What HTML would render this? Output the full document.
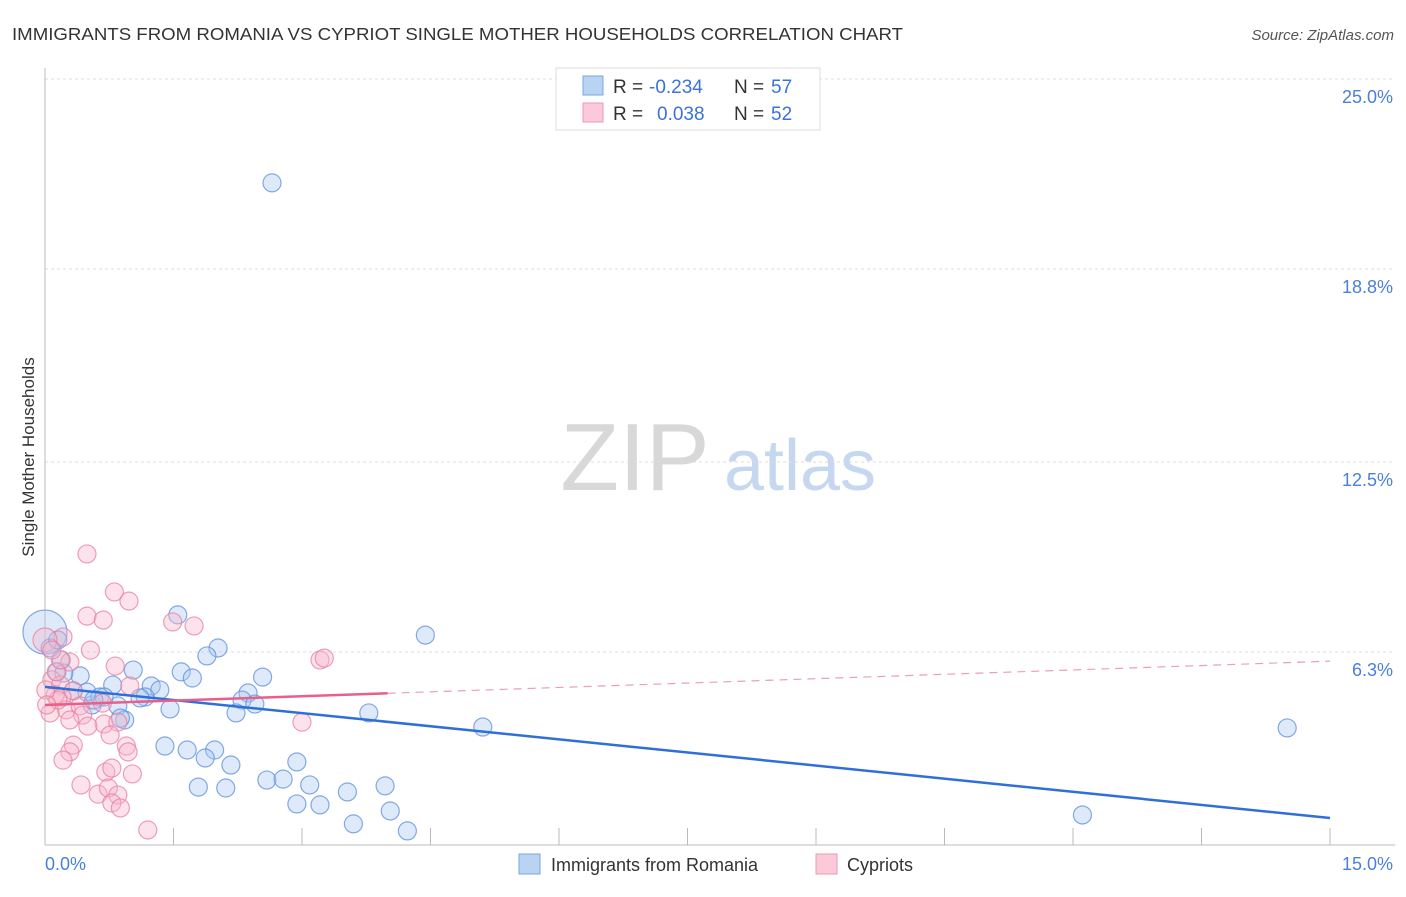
<!DOCTYPE html>
<html><head><meta charset="utf-8"><style>
body{margin:0;background:#fff;font-family:"Liberation Sans",sans-serif}
svg text{font-family:"Liberation Sans",sans-serif}
</style></head><body>
<svg id="chart" width="1406" height="892" xmlns="http://www.w3.org/2000/svg">
<text x="12" y="40" font-size="17.5" fill="#333" textLength="891" lengthAdjust="spacingAndGlyphs">IMMIGRANTS FROM ROMANIA VS CYPRIOT SINGLE MOTHER HOUSEHOLDS CORRELATION CHART</text>
<text x="1394" y="40" font-size="15" fill="#555" font-style="italic" text-anchor="end">Source: ZipAtlas.com</text>
<g>
<text x="635" y="490" font-size="96" fill="#d8d8d8" font-family="Liberation Serif" text-anchor="middle">ZIP</text>
<text x="800" y="490" font-size="72" fill="#c6d8ef" text-anchor="middle">atlas</text>
</g>
<g id="grid"></g>
<g id="axes"></g>
<g id="marks"></g>
<text transform="translate(34,457) rotate(-90)" font-size="17" fill="#333" text-anchor="middle">Single Mother Households</text>
<g>
<rect x="556" y="68" width="264" height="62" fill="#fff" stroke="#ddd"/>
<rect x="583" y="76" width="20" height="19" fill="#b9d3f3" stroke="#7aa6e0"/>
<rect x="583" y="103" width="20" height="19" fill="#fbc9d8" stroke="#ee98b4"/>
<text x="613" y="93" font-size="19" fill="#333">R =</text>
<text x="649" y="93" font-size="19" fill="#3a72d8">-0.234</text>
<text x="734" y="93" font-size="19" fill="#333">N =</text>
<text x="771" y="93" font-size="19" fill="#3a72d8">57</text>
<text x="613" y="120" font-size="19" fill="#333">R =</text>
<text x="657" y="120" font-size="19" fill="#3a72d8">0.038</text>
<text x="734" y="120" font-size="19" fill="#333">N =</text>
<text x="771" y="120" font-size="19" fill="#3a72d8">52</text>
</g>
<g>
<rect x="519" y="854" width="21" height="20" fill="#b9d3f3" stroke="#7aa6e0"/>
<text x="551" y="871" font-size="18" fill="#333">Immigrants from Romania</text>
<rect x="816" y="854" width="21" height="20" fill="#fbc9d8" stroke="#ee98b4"/>
<text x="847" y="871" font-size="18" fill="#333">Cypriots</text>
</g>
</svg>
<script>
const yTicks=[6.3,12.5,18.8,25.0];
const xTickLabels=["0.0%","15.0%"];
const blueX=[2.65,4.44,5.11,14.50,12.11,1.55,2.02,1.89,1.59,1.72,2.54,1.03,0.41,0.19,0.14,0.22,0.79,1.24,1.34,1.17,1.11,2.37,2.30,2.45,2.23,1.46,0.85,0.93,0.88,0.55,0.33,0.49,0.64,3.78,1.40,1.66,1.98,1.87,2.17,2.94,2.59,2.78,3.09,1.79,2.11,3.97,3.53,2.94,3.21,4.03,3.60,4.23,0,0.06,0.15,0.69,0.57];
const blueY=[21.61,6.85,3.85,3.82,0.98,7.51,6.43,6.17,5.65,5.45,5.48,5.71,5.52,6.04,5.65,5.61,5.22,5.19,5.06,4.83,4.80,4.96,4.73,4.60,4.31,4.44,4.54,4.08,4.14,4.57,5.03,4.99,4.83,4.31,3.23,3.10,3.10,2.84,2.61,2.71,2.12,2.15,1.96,1.89,1.86,1.93,1.73,1.34,1.31,1.11,0.69,0.46,6.95,6.43,6.69,4.83,4.73];
const pinkX=[0.49,0.81,0.98,0.49,0.68,1.49,1.74,0.21,0.53,0,3.21,3.26,0.82,0.29,0.08,0.18,0.33,0.20,0.25,0.41,0.44,0.67,0.69,0.06,0.29,0.50,0.99,0.85,3.00,0.95,0.97,0.33,0.29,0.21,0.71,0.78,1.02,0.42,0.62,0.74,0.85,0.78,0.88,1.20,0.12,0.15,0.01,0.02,0.13,0.76,0.18,0.08];
const pinkY=[9.50,8.26,7.96,7.47,7.34,7.28,7.15,6.79,6.36,6.69,6.04,6.10,5.84,5.97,5.39,5.22,5.03,4.83,4.41,4.54,4.24,4.63,3.95,4.31,4.08,3.88,5.19,4.01,4.01,3.23,3.04,3.26,3.04,2.77,2.38,2.51,2.32,1.96,1.66,1.86,1.63,1.37,1.21,0.49,4.90,4.73,5.06,4.57,5.65,3.59,6.04,6.36];
const blueTrend=[5.16,0.88];
const pinkTrend=[4.57,6.0];
const pinkSolidEnd=4.0;

const NS="http://www.w3.org/2000/svg";
const X0=45,X1=1330,Y0=845,Y1=79;
const sx=v=>X0+(v/15)*(X1-X0);
const sy=v=>Y0-(v/25)*(Y0-Y1);
function mk(tag,attrs,parent){const e=document.createElementNS(NS,tag);for(const k in attrs)e.setAttribute(k,attrs[k]);document.getElementById(parent).appendChild(e);return e;}
yTicks.forEach(t=>{
 const l=mk('line',{x1:X0,x2:1395,y1:sy(t),y2:sy(t),stroke:'#dcdcdc','stroke-width':1,'stroke-dasharray':'3,3'},'grid');
 
 
 const tx=mk('text',{x:1393,y:sy(t)+24,'font-size':18,fill:'#4a7fdc','text-anchor':'end'},'grid');
 tx.textContent=t.toFixed(1)+'%';
 
 
});
const ya=mk('line',{x1:X0,x2:X0,y1:68,y2:Y0,stroke:'#bbb'},'axes');


const xa=mk('line',{x1:X0,x2:1395,y1:Y0,y2:Y0,stroke:'#bbb'},'axes');


for(let i=1;i<=10;i++){
 const v=i*1.5;
 const t=mk('line',{x1:sx(v),x2:sx(v),y1:828,y2:Y0,stroke:'#bbb'},'axes');
 
 
}
[[0,'start',45],[15,'end',1393]].forEach((d,i)=>{
 const t=mk('text',{x:d[2],y:870,'font-size':18,fill:'#4a7fdc','text-anchor':d[1]},'axes');
 t.textContent=xTickLabels[i];
 
 
});
function dots(xs,ys,fill,stroke,name){
 xs.forEach((x,i)=>{
  const big=(x===0&&((name==='blue-point'&&ys[i]>6.8)||(name==='pink-point'&&ys[i]>6.6)));
  const r=big?(name==='blue-point'?22:12):9;
  const c=mk('circle',{cx:sx(x),cy:sy(ys[i]),r:r,fill:fill,'fill-opacity':0.38,stroke:stroke,'stroke-opacity':0.75,'stroke-width':1.2},'marks');
  
  
 });
}
dots(blueX,blueY,'#a9c8f0','#5b8fdc','blue-point');
dots(pinkX,pinkY,'#f7b6ca','#e97fa2','pink-point');
const bl=mk('line',{x1:sx(0),y1:sy(blueTrend[0]),x2:sx(15),y2:sy(blueTrend[1]),stroke:'#2f6fd8','stroke-width':2.5},'marks');


const pv=x=>pinkTrend[0]+(pinkTrend[1]-pinkTrend[0])*x/15;
const pl=mk('line',{x1:sx(0),y1:sy(pv(0)),x2:sx(pinkSolidEnd),y2:sy(pv(pinkSolidEnd)),stroke:'#e8608a','stroke-width':2.5},'marks');


const pd=mk('line',{x1:sx(pinkSolidEnd),y1:sy(pv(pinkSolidEnd)),x2:sx(15),y2:sy(pv(15)),stroke:'#e8a0b8','stroke-width':1.2,'stroke-dasharray':'8,6'},'marks');


</script>
</body></html>
